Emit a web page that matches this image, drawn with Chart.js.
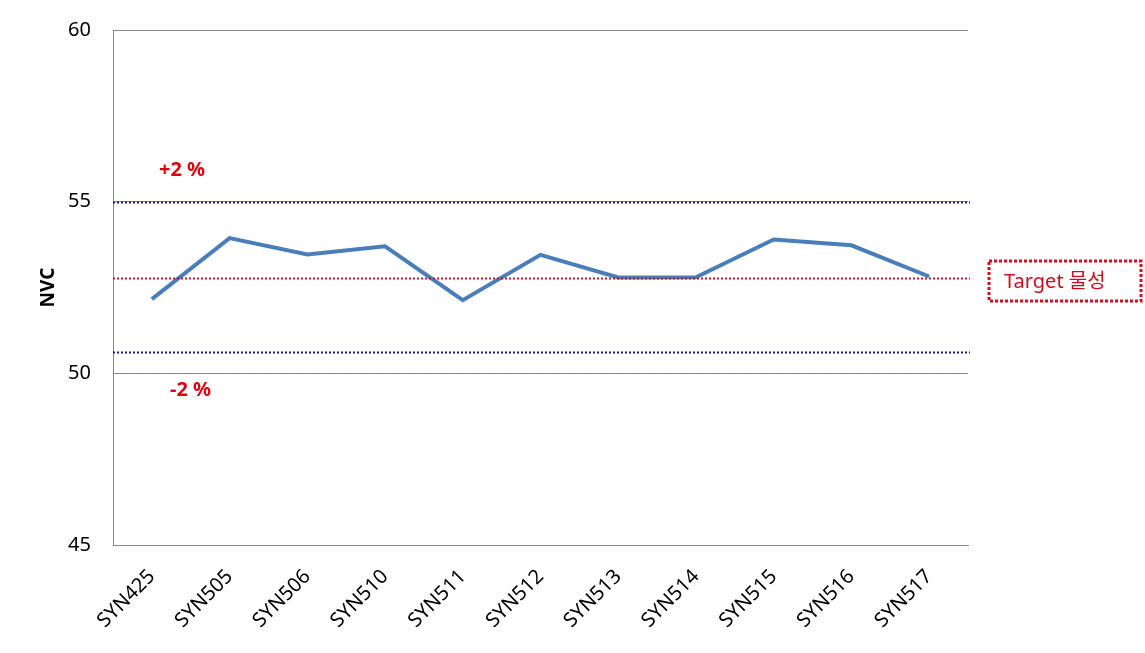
<!DOCTYPE html>
<html>
<head>
<meta charset="utf-8">
<script src="https://cdn.jsdelivr.net/npm/chart.js@4/dist/chart.umd.min.js"></script>
<style>
  html, body { margin: 0; padding: 0; background: #fff; }
  #wrap { width: 1145px; height: 653px; position: relative; }
</style>
</head>
<body>
<div id="wrap"><canvas id="myChart"></canvas></div>
<script>
  "use strict";
  // data
  const labels = ['SYN425', 'SYN505', 'SYN506', 'SYN510', 'SYN511', 'SYN512', 'SYN513', 'SYN514', 'SYN515', 'SYN516', 'SYN517'];
  const nvcValues = [52.16, 53.94, 53.46, 53.70, 52.13, 53.45, 52.79, 52.80, 53.90, 53.73, 52.82];
  const targetValue = 52.78;
  const upperValue = 55.0;
  const lowerValue = 50.62;
  const yTicks = [45, 50, 55, 60];

  const FONT = '"Noto Sans", "Noto Sans CJK KR", sans-serif';

  // limit lines across the whole plot, text labels, and the "Target" box
  const notes = {
    id: 'notes',
    afterDatasetsDraw(chart) {
      const ctx = chart.ctx;
      const y = chart.scales.y;
      const area = chart.chartArea;
      ctx.save();

      const refLine = (v, color) => {
        const py = Math.round(y.getPixelForValue(v)) + 0.5;
        ctx.strokeStyle = color;
        ctx.lineWidth = 2;
        ctx.setLineDash([2, 2]);
        ctx.beginPath();
        ctx.moveTo(area.left, py);
        ctx.lineTo(area.right + 2, py);
        ctx.stroke();
      };
      refLine(upperValue, '#1c1c78');
      refLine(lowerValue, '#1c1c78');
      refLine(targetValue, '#b0202a');
      ctx.setLineDash([]);

      ctx.fillStyle = '#e00010';
      ctx.font = 'bold 20px ' + FONT;
      ctx.textBaseline = 'middle';
      ctx.textAlign = 'left';
      ctx.fillText('+2 %', area.left + 46, y.getPixelForValue(upperValue) - 31);
      ctx.fillText('-2 %', area.left + 57, y.getPixelForValue(lowerValue) + 38);

      // target box
      const ty = y.getPixelForValue(targetValue);
      const bx = 989, bw = 152, bh = 40;
      ctx.strokeStyle = '#d0101c';
      ctx.lineWidth = 3;
      ctx.setLineDash([3, 2]);
      ctx.strokeRect(bx, ty - bh / 2 + 3, bw, bh);
      ctx.setLineDash([]);
      ctx.fillStyle = '#c8101c';
      ctx.font = '20px ' + FONT;
      ctx.textAlign = 'left';
      ctx.fillText('Target 물성', 1004, ty + 4);
      ctx.restore();
    }
  };

  const ctx = document.getElementById('myChart').getContext('2d');
  const chart = new Chart(ctx, {
    type: 'line',
    data: {
      labels: labels,
      datasets: [
        {
          label: 'NVC',
          data: nvcValues,
          borderColor: '#4a7ebb',
          borderWidth: 4,
          pointRadius: 0,
          tension: 0
        }
      ]
    },
    options: {
      responsive: true,
      maintainAspectRatio: false,
      animation: false,
      layout: {
        padding: { top: 30, right: 177, left: 37, bottom: 0 }
      },
      plugins: {
        legend: { display: false },
        tooltip: { enabled: false }
      },
      scales: {
        x: {
          type: 'category',
          offset: true,
          grid: { display: false, drawTicks: false },
          border: { color: '#888', width: 1 },
          ticks: {
            color: '#000',
            font: { family: FONT, size: 20 },
            minRotation: 45,
            maxRotation: 45,
            padding: 20
          },
          afterFit(s) { s.height = 108; }
        },
        y: {
          min: 45,
          max: 60,
          afterBuildTicks(s) { s.ticks = yTicks.map(v => ({ value: v })); },
          grid: { color: '#888', drawTicks: false },
          border: { color: '#888', width: 1 },
          ticks: {
            color: '#000',
            font: { family: FONT, size: 20 },
            padding: 22
          },
          title: {
            display: true,
            text: 'NVC',
            color: '#000',
            font: { family: FONT, size: 19, weight: 'bold' },
            padding: { top: 0, bottom: 0 }
          },
          afterFit(s) {
            s.width = 76;
            s.paddingTop = 0;
            s.paddingBottom = 0;
          }
        }
      }
    },
    plugins: [notes]
  });
</script>
</body>
</html>
